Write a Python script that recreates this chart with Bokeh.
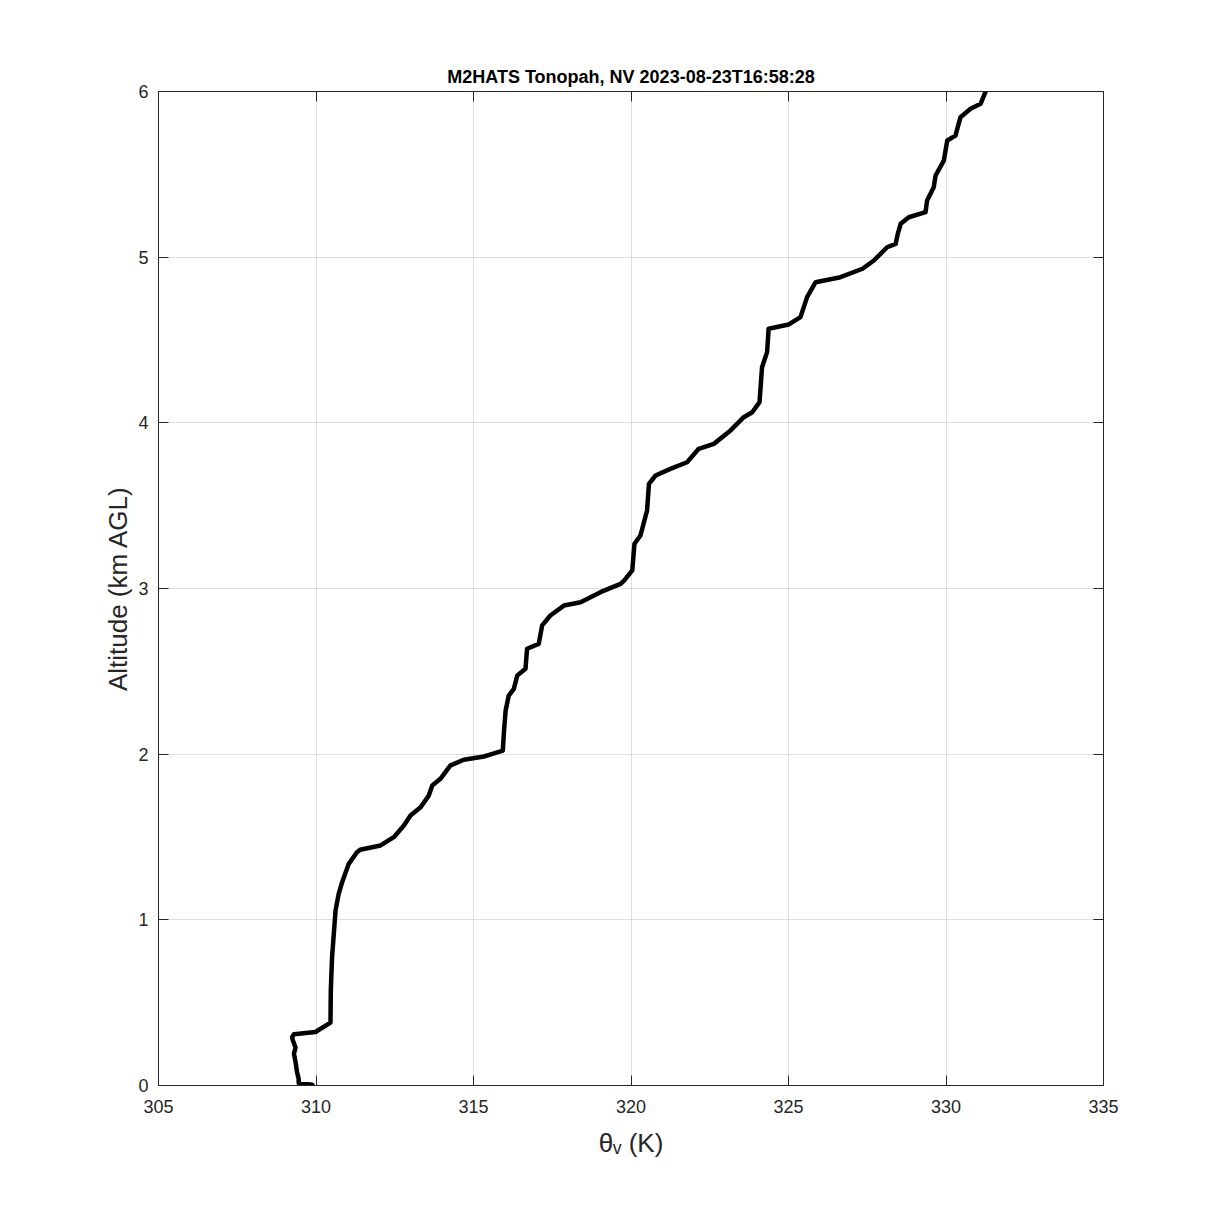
from bokeh.plotting import figure
from bokeh.models import Range1d, LinearAxis, FixedTicker
from bokeh.embed import file_html
from bokeh.resources import INLINE

# Virtual potential temperature profile (K) vs altitude (km AGL)
altitude_km = [0.000, 0.005, 0.015, 0.040, 0.078, 0.130, 0.193, 0.229, 0.270, 0.290,
               0.310, 0.323, 0.380, 0.574, 0.774, 1.056, 1.157, 1.227, 1.338, 1.408,
               1.423, 1.449, 1.499, 1.569, 1.630, 1.680, 1.750, 1.811, 1.851, 1.932,
               1.966, 1.986, 2.002, 2.022, 2.143, 2.264, 2.354, 2.394, 2.475, 2.515,
               2.636, 2.666, 2.777, 2.837, 2.897, 2.917, 2.978, 3.028, 3.048, 3.109,
               3.270, 3.320, 3.471, 3.632, 3.682, 3.722, 3.762, 3.843, 3.873, 3.954,
               4.034, 4.064, 4.125, 4.336, 4.427, 4.568, 4.594, 4.638, 4.759, 4.849,
               4.879, 4.930, 4.980, 5.060, 5.080, 5.141, 5.201, 5.241, 5.272, 5.342,
               5.422, 5.493, 5.583, 5.704, 5.734, 5.845, 5.896, 5.926, 5.996]
theta_v_K = [309.89, 309.88, 309.45, 309.45, 309.40, 309.36, 309.30, 309.35, 309.27, 309.24,
             309.30, 309.98, 310.46, 310.47, 310.51, 310.62, 310.72, 310.83, 311.04, 311.30,
             311.40, 312.05, 312.47, 312.79, 313.00, 313.32, 313.58, 313.69, 313.95, 314.27,
             314.69, 315.33, 315.60, 315.93, 315.97, 316.02, 316.12, 316.28, 316.39, 316.65,
             316.70, 317.07, 317.18, 317.44, 317.87, 318.40, 319.03, 319.67, 319.78, 320.04,
             320.11, 320.30, 320.51, 320.57, 320.78, 321.25, 321.78, 322.15, 322.63, 323.16,
             323.58, 323.85, 324.08, 324.16, 324.32, 324.37, 325.01, 325.38, 325.59, 325.86,
             326.65, 327.35, 327.71, 328.13, 328.40, 328.47, 328.56, 328.82, 329.35, 329.40,
             329.61, 329.67, 329.93, 330.04, 330.30, 330.46, 330.78, 331.10, 331.25]

x_ticks = [305, 310, 315, 320, 325, 330, 335]
y_ticks = [0, 1, 2, 3, 4, 5, 6]

FONT = "Liberation Sans"
AXC = "#262626"

p = figure(width=1200, height=1200, output_backend="svg", toolbar_location=None,
           x_range=Range1d(305, 335), y_range=Range1d(0, 6),
           min_border_left=158, min_border_right=97, min_border_top=91, min_border_bottom=115,
           background_fill_color="white", border_fill_color="white", outline_line_color=None)

p.title.text = "M2HATS Tonopah, NV 2023-08-23T16:58:28"
p.title.align = "center"
p.title.text_font = FONT
p.title.text_font_size = "18px"
p.title.text_font_style = "bold"
p.title.text_color = "black"

def style_axis(ax, labels=True):
    ax.axis_line_color = AXC
    ax.axis_line_width = 1
    ax.major_tick_in = 10
    ax.major_tick_out = 0
    ax.minor_tick_in = 0
    ax.minor_tick_out = 0
    ax.major_tick_line_color = AXC
    ax.major_label_text_font = FONT
    ax.major_label_text_font_size = "18px"
    ax.major_label_text_color = AXC
    if not labels:
        ax.major_label_text_font_size = "0px"
        ax.major_label_text_alpha = 0

for ax in p.xaxis:
    ax.ticker = FixedTicker(ticks=x_ticks)
    style_axis(ax)
    ax.major_label_standoff = 14
    ax.axis_label = "θ\u1d65 (K)"
    ax.axis_label_text_font = FONT
    ax.axis_label_text_font_size = "26px"
    ax.axis_label_text_font_style = "normal"
    ax.axis_label_text_color = AXC
    ax.axis_label_standoff = 12
for ax in p.yaxis:
    ax.ticker = FixedTicker(ticks=y_ticks)
    style_axis(ax)
    ax.major_label_standoff = 10
    ax.axis_label = "Altitude (km AGL)"
    ax.axis_label_text_font = FONT
    ax.axis_label_text_font_size = "26px"
    ax.axis_label_text_font_style = "normal"
    ax.axis_label_text_color = AXC
    ax.axis_label_standoff = 2

top_ax = LinearAxis(ticker=FixedTicker(ticks=x_ticks))
style_axis(top_ax, labels=False)
right_ax = LinearAxis(ticker=FixedTicker(ticks=y_ticks))
style_axis(right_ax, labels=False)
p.add_layout(top_ax, "above")
p.add_layout(right_ax, "right")

p.xgrid.ticker = FixedTicker(ticks=x_ticks)
p.ygrid.ticker = FixedTicker(ticks=y_ticks)
for g in (p.xgrid, p.ygrid):
    g.grid_line_color = AXC
    g.grid_line_alpha = 0.15
    g.grid_line_width = 1

p.line(theta_v_K, altitude_km, line_color="black", line_width=4.5, line_join="round", line_cap="round")

open("out.html", "w").write(file_html(p, INLINE))
